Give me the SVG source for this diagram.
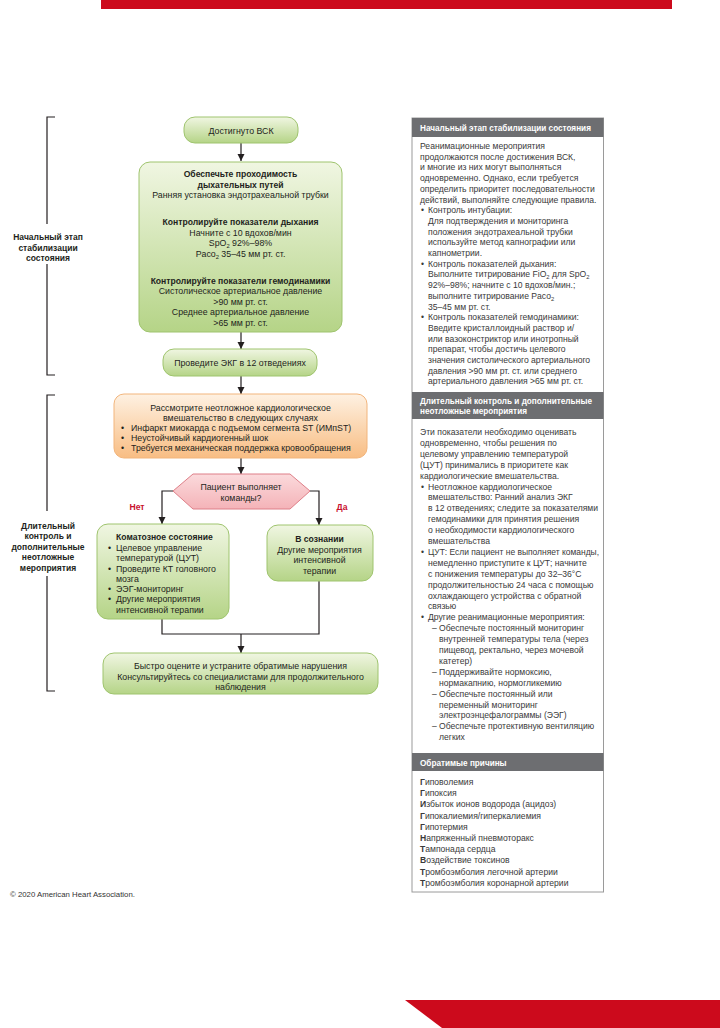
<svg xmlns="http://www.w3.org/2000/svg" width="720" height="1028" viewBox="0 0 720 1028">
<defs>
<linearGradient id="gGreen" x1="0" y1="0" x2="0" y2="1"><stop offset="0" stop-color="#f0f6e2"/><stop offset="1" stop-color="#b5d487"/></linearGradient>
<linearGradient id="gOrange" x1="0" y1="0" x2="0" y2="1"><stop offset="0" stop-color="#fef1e2"/><stop offset="1" stop-color="#f8bd83"/></linearGradient>
<linearGradient id="gPink" x1="0" y1="0" x2="0" y2="1"><stop offset="0" stop-color="#fbdadc"/><stop offset="1" stop-color="#f4b3b8"/></linearGradient>
<marker id="arr" markerUnits="userSpaceOnUse" markerWidth="8" markerHeight="8" refX="7" refY="3.5" orient="auto"><path d="M0,0 L7,3.5 L0,7 z" fill="#231f20"/></marker>
<style>
text{font-family:"Liberation Sans",Arial,sans-serif;font-size:8.8px;fill:#231f20}
.c{text-anchor:middle}
.b{font-weight:bold;font-size:8.6px}
.lbl{font-size:8.5px;font-weight:bold;text-anchor:middle}
.p{fill:#3a3a3a;font-size:8.6px}
.pb{font-weight:bold}
.h{fill:#ffffff;font-weight:bold;font-size:8.2px}
.sub{font-size:5.8px}
.green{fill:url(#gGreen);stroke:#9fc46e;stroke-width:1}
.orange{fill:url(#gOrange);stroke:#f2b57c;stroke-width:1}
.pink{fill:url(#gPink);stroke:#de7f88;stroke-width:1}
.con{fill:none;stroke:#231f20;stroke-width:1.2}
.br{fill:none;stroke:#231f20;stroke-width:1.2}
.red{fill:#c8102e;font-weight:bold;text-anchor:middle;font-size:8.6px}
</style>
</defs>
<rect width="720" height="1028" fill="#ffffff"/>
<rect x="101" y="0" width="571" height="9" fill="#cc0a1c"/>
<polygon points="405,1000 720,1000 720,1028 442,1028" fill="#cc0a1c"/>
<text x="10" y="897" style="font-size:7.8px;fill:#333">© 2020 American Heart Association.</text>

<g id="bracket1">
<path class="br" d="M55,117 H47 V224 M47,264 V375 H55"/>
<text class="lbl" x="48" y="240">Начальный этап</text>
<text class="lbl" x="48" y="250.5">стабилизации</text>
<text class="lbl" x="48" y="261">состояния</text>
</g>
<g id="bracket2">
<path class="br" d="M55,395 H47 V511 M47,576 V691 H55"/>
<text class="lbl" x="48" y="528.5">Длительный</text>
<text class="lbl" x="48" y="539">контроль и</text>
<text class="lbl" x="48" y="549.5">дополнительные</text>
<text class="lbl" x="48" y="560">неотложные</text>
<text class="lbl" x="48" y="570.5">мероприятия</text>
</g>

<g id="connectors">
<line class="con" x1="241" y1="143" x2="241" y2="161" marker-end="url(#arr)"/>
<line class="con" x1="241" y1="200" x2="241" y2="213" marker-end="url(#arr)"/>
<line class="con" x1="241" y1="259" x2="241" y2="274" marker-end="url(#arr)"/>
<line class="con" x1="241" y1="332" x2="241" y2="349" marker-end="url(#arr)"/>
<line class="con" x1="241" y1="376" x2="241" y2="394" marker-end="url(#arr)"/>
<line class="con" x1="241" y1="458" x2="241" y2="474" marker-end="url(#arr)"/>
<polyline class="con" points="173,491 162,491 162,524" marker-end="url(#arr)"/>
<polyline class="con" points="310,491 319,491 319,525" marker-end="url(#arr)"/>
<polyline class="con" points="162,619 162,634 319,634 319,581"/>
<line class="con" x1="241" y1="634" x2="241" y2="653" marker-end="url(#arr)"/>
<text class="red" x="137" y="510">Нет</text>
<text class="red" x="342" y="510">Да</text>
</g>

<g id="n-rosc">
<rect class="green" x="184" y="117" width="114" height="26" rx="11"/>
<text class="c" x="241" y="133.5">Достигнуто ВСК</text>
</g>

<g id="n-stabilize">
<rect class="green" x="139" y="162" width="203" height="170" rx="11"/>
<text class="c b" x="240.5" y="177">Обеспечьте проходимость</text>
<text class="c b" x="240.5" y="187.5">дыхательных путей</text>
<text class="c" x="240.5" y="198">Ранняя установка эндотрахеальной трубки</text>
<text class="c b" x="240.5" y="225">Контролируйте показатели дыхания</text>
<text class="c" x="240.5" y="235.5">Начните с 10 вдохов/мин</text>
<text class="c" x="240.5" y="246">SpO<tspan class="sub" dy="2">2</tspan><tspan dy="-2"> 92%–98%</tspan></text>
<text class="c" x="240.5" y="256.5">Paco<tspan class="sub" dy="2">2</tspan><tspan dy="-2"> 35–45 мм рт. ст.</tspan></text>
<text class="c b" x="240.5" y="283.5">Контролируйте показатели гемодинамики</text>
<text class="c" x="240.5" y="294">Систолическое артериальное давление</text>
<text class="c" x="240.5" y="304.5">&gt;90 мм рт. ст.</text>
<text class="c" x="240.5" y="315">Среднее артериальное давление</text>
<text class="c" x="240.5" y="325.5">&gt;65 мм рт. ст.</text>
</g>

<g id="n-ecg">
<rect class="green" x="163" y="349" width="154" height="27" rx="11"/>
<text class="c" x="240" y="366">Проведите ЭКГ в 12 отведениях</text>
</g>

<g id="n-cardiac">
<rect class="orange" x="114" y="394" width="253" height="64" rx="10"/>
<text class="c" x="240.5" y="410.5">Рассмотрите неотложное кардиологическое</text>
<text class="c" x="240.5" y="420.5">вмешательство в следующих случаях</text>
<text x="121" y="430.5">•</text><text x="131" y="430.5">Инфаркт миокарда с подъемом сегмента ST (ИМпST)</text>
<text x="121" y="440.5">•</text><text x="131" y="440.5">Неустойчивый кардиогенный шок</text>
<text x="121" y="450.5">•</text><text x="131" y="450.5">Требуется механическая поддержка кровообращения</text>
</g>

<g id="n-decision">
<polygon class="pink" points="173,491 193,474 290,474 310,491 290,509 193,509"/>
<text class="c" x="241" y="490">Пациент выполняет</text>
<text class="c" x="241" y="501">команды?</text>
</g>

<g id="n-coma">
<rect class="green" x="97" y="524" width="132" height="95" rx="11"/>
<text class="b" x="116" y="540">Коматозное состояние</text>
<text x="108" y="550.5">•</text><text x="116" y="550.5">Целевое управление</text>
<text x="116" y="561">температурой (ЦУТ)</text>
<text x="108" y="571.5">•</text><text x="116" y="571.5">Проведите КТ головного</text>
<text x="116" y="582">мозга</text>
<text x="108" y="592">•</text><text x="116" y="592">ЭЭГ-мониторинг</text>
<text x="108" y="602">•</text><text x="116" y="602">Другие мероприятия</text>
<text x="116" y="612.5">интенсивной терапии</text>
</g>

<g id="n-awake">
<rect class="green" x="267" y="525" width="106" height="56" rx="11"/>
<text class="c b" x="319.5" y="542">В сознании</text>
<text class="c" x="319.5" y="552.5">Другие мероприятия</text>
<text class="c" x="319.5" y="563">интенсивной</text>
<text class="c" x="319.5" y="573.5">терапии</text>
</g>

<g id="n-final">
<rect class="green" x="103" y="653" width="275" height="41" rx="11"/>
<text class="c" x="240.5" y="669">Быстро оцените и устраните обратимые нарушения</text>
<text class="c" x="240.5" y="679.5">Консультируйтесь со специалистами для продолжительного</text>
<text class="c" x="240.5" y="690">наблюдения</text>
</g>

<g id="side-panel">
<rect x="412" y="118" width="191.5" height="774" fill="#ffffff" stroke="#9a9a9a" stroke-width="1"/>
<rect x="412" y="118" width="191.5" height="19" fill="#6d6e71"/>
<text class="h" x="420" y="131">Начальный этап стабилизации состояния</text>
<text class="p" x="420" y="149">Реанимационные мероприятия</text>
<text class="p" x="420" y="159.7">продолжаются после достижения ВСК,</text>
<text class="p" x="420" y="170.4">и многие из них могут выполняться</text>
<text class="p" x="420" y="181.1">одновременно. Однако, если требуется</text>
<text class="p" x="420" y="191.8">определить приоритет последовательности</text>
<text class="p" x="420" y="202.5">действий, выполняйте следующие правила.</text>
<text class="p" x="421" y="213.2">•</text><text class="p" x="428" y="213.2">Контроль интубации:</text>
<text class="p" x="428" y="223.9">Для подтверждения и мониторинга</text>
<text class="p" x="428" y="234.6">положения эндотрахеальной трубки</text>
<text class="p" x="428" y="245.3">используйте метод капнографии или</text>
<text class="p" x="428" y="256">капнометрии.</text>
<text class="p" x="421" y="266.7">•</text><text class="p" x="428" y="266.7">Контроль показателей дыхания:</text>
<text class="p" x="428" y="277.4">Выполните титрирование FiO<tspan class="sub" dy="2">2</tspan><tspan dy="-2"> для SpO</tspan><tspan class="sub" dy="2">2</tspan></text>
<text class="p" x="428" y="288.1">92%–98%; начните с 10 вдохов/мин.;</text>
<text class="p" x="428" y="298.8">выполните титрирование Paco<tspan class="sub" dy="2">2</tspan></text>
<text class="p" x="428" y="309.5">35–45 мм рт. ст.</text>
<text class="p" x="421" y="320.2">•</text><text class="p" x="428" y="320.2">Контроль показателей гемодинамики:</text>
<text class="p" x="428" y="330.9">Введите кристаллоидный раствор и/</text>
<text class="p" x="428" y="341.6">или вазоконстриктор или инотропный</text>
<text class="p" x="428" y="352.3">препарат, чтобы достичь целевого</text>
<text class="p" x="428" y="363">значения систолического артериального</text>
<text class="p" x="428" y="373.7">давления &gt;90 мм рт. ст. или среднего</text>
<text class="p" x="428" y="384.4">артериального давления &gt;65 мм рт. ст.</text>
<rect x="412" y="392" width="191.5" height="27" fill="#6d6e71"/>
<text class="h" x="420" y="403.5">Длительный контроль и дополнительные</text>
<text class="h" x="420" y="414">неотложные мероприятия</text>
<text class="p" x="420" y="435">Эти показатели необходимо оценивать</text>
<text class="p" x="420" y="445.9">одновременно, чтобы решения по</text>
<text class="p" x="420" y="456.8">целевому управлению температурой</text>
<text class="p" x="420" y="467.7">(ЦУТ) принимались в приоритете как</text>
<text class="p" x="420" y="478.6">кардиологические вмешательства.</text>
<text class="p" x="421" y="489.5">•</text><text class="p" x="428" y="489.5">Неотложное кардиологическое</text>
<text class="p" x="428" y="500.4">вмешательство: Ранний анализ ЭКГ</text>
<text class="p" x="428" y="511.3" textLength="170" lengthAdjust="spacingAndGlyphs">в 12 отведениях; следите за показателями</text>
<text class="p" x="428" y="522.2">гемодинамики для принятия решения</text>
<text class="p" x="428" y="533.1">о необходимости кардиологического</text>
<text class="p" x="428" y="544">вмешательства</text>
<text class="p" x="421" y="554.9">•</text><text class="p" x="428" y="554.9" textLength="171" lengthAdjust="spacingAndGlyphs">ЦУТ: Если пациент не выполняет команды,</text>
<text class="p" x="428" y="565.8">немедленно приступите к ЦУТ; начните</text>
<text class="p" x="428" y="576.7">с понижения температуры до 32–36°C</text>
<text class="p" x="428" y="587.6">продолжительностью 24 часа с помощью</text>
<text class="p" x="428" y="598.5">охлаждающего устройства с обратной</text>
<text class="p" x="428" y="609.4">связью</text>
<text class="p" x="421" y="620.3">•</text><text class="p" x="428" y="620.3">Другие реанимационные мероприятия:</text>
<text class="p" x="432" y="631.2">–</text><text class="p" x="439" y="631.2">Обеспечьте постоянный мониторинг</text>
<text class="p" x="439" y="642.1">внутренней температуры тела (через</text>
<text class="p" x="439" y="653">пищевод, ректально, через мочевой</text>
<text class="p" x="439" y="663.9">катетер)</text>
<text class="p" x="432" y="674.8">–</text><text class="p" x="439" y="674.8">Поддерживайте нормоксию,</text>
<text class="p" x="439" y="685.7">нормакапнию, нормогликемию</text>
<text class="p" x="432" y="696.6">–</text><text class="p" x="439" y="696.6">Обеспечьте постоянный или</text>
<text class="p" x="439" y="707.5">переменный мониторинг</text>
<text class="p" x="439" y="718.4">электроэнцефалограммы (ЭЭГ)</text>
<text class="p" x="432" y="729.3">–</text><text class="p" x="439" y="729.3">Обеспечьте протективную вентиляцию</text>
<text class="p" x="439" y="740.2">легких</text>
<rect x="412" y="753" width="191.5" height="18" fill="#6d6e71"/>
<text class="h" x="420" y="765.5">Обратимые причины</text>
<text class="p" x="420" y="785"><tspan class="pb">Г</tspan>иповолемия</text>
<text class="p" x="420" y="796.2"><tspan class="pb">Г</tspan>ипоксия</text>
<text class="p" x="420" y="807.4"><tspan class="pb">И</tspan>збыток ионов водорода (ацидоз)</text>
<text class="p" x="420" y="818.6"><tspan class="pb">Г</tspan>ипокалиемия/гиперкалиемия</text>
<text class="p" x="420" y="829.8"><tspan class="pb">Г</tspan>ипотермия</text>
<text class="p" x="420" y="841"><tspan class="pb">Н</tspan>апряженный пневмоторакс</text>
<text class="p" x="420" y="852.2"><tspan class="pb">Т</tspan>ампонада сердца</text>
<text class="p" x="420" y="863.4"><tspan class="pb">В</tspan>оздействие токсинов</text>
<text class="p" x="420" y="874.6"><tspan class="pb">Т</tspan>ромбоэмболия легочной артерии</text>
<text class="p" x="420" y="885.8"><tspan class="pb">Т</tspan>ромбоэмболия коронарной артерии</text>
</g>
</svg>
